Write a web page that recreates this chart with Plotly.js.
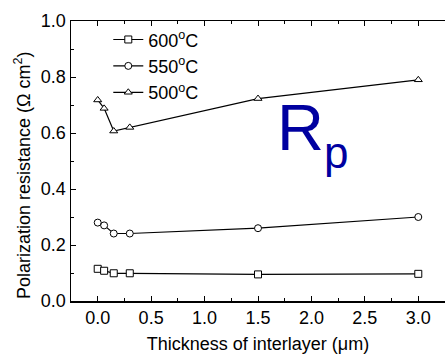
<!DOCTYPE html>
<html><head><meta charset="utf-8">
<script src="https://cdn.plot.ly/plotly-3.0.1.min.js"></script>
<style>html,body{margin:0;padding:0;background:#fff}</style>
</head><body>
<div id="chart" style="width:445px;height:354px"></div>
<script>
const thickness = [0, 0.06, 0.15, 0.3, 1.5, 3.0];
const rp600 = [0.115, 0.108, 0.099, 0.099, 0.095, 0.097];
const rp550 = [0.280, 0.270, 0.241, 0.241, 0.260, 0.300];
const rp500 = [0.718, 0.688, 0.607, 0.620, 0.723, 0.790];
const names = ['600<sup>o</sup>C', '550<sup>o</sup>C', '500<sup>o</sup>C'];
const symbols = ['square', 'circle', 'triangle-up'];
const series = [rp600, rp550, rp500];

const traces = series.map((ys, i) => ({
  x: thickness, y: ys, name: names[i], type: 'scatter', mode: 'lines+markers',
  line: {color: '#000', width: 1.2},
  marker: {symbol: symbols[i], size: 7, color: '#fff', line: {color: '#000', width: 1}}
}));

const font = 'Arial, "Liberation Sans", sans-serif';
const layout = {
  width: 445, height: 354,
  margin: {l: 71, r: 0, t: 21, b: 53},
  paper_bgcolor: '#fff', plot_bgcolor: '#fff',
  font: {family: font, color: '#000'},
  showlegend: true,
  legend: {x: 0.0997, y: 0.999, xanchor: 'left', yanchor: 'top', bgcolor: 'rgba(0,0,0,0)',
    font: {size: 18, family: font}, traceorder: 'normal', tracegroupgap: 0, itemwidth: 30},
  xaxis: {
    range: [-0.25, 3.25], tick0: 0, dtick: 0.5, tickformat: '.1f',
    ticks: 'inside', ticklen: 5, tickwidth: 1, tickcolor: '#000',
    minor: {dtick: 0.25, ticks: 'inside', ticklen: 3, tickcolor: '#000'},
    showline: true, linecolor: '#000', linewidth: 1.5, mirror: 'ticks',
    showgrid: false, zeroline: false,
    tickfont: {size: 18, family: font},
    title: {text: 'Thickness of interlayer (μm)', font: {size: 18, family: font}, standoff: 10}
  },
  yaxis: {
    range: [0, 1.0], tick0: 0, dtick: 0.2, tickformat: '.1f',
    ticks: 'inside', ticklen: 5, tickwidth: 1, tickcolor: '#000',
    minor: {dtick: 0.1, ticks: 'inside', ticklen: 3, tickcolor: '#000'},
    showline: true, linecolor: '#000', linewidth: 1.5, mirror: false,
    showgrid: false, zeroline: false,
    tickfont: {size: 18, family: font}
  },
  annotations: [
    {x: -0.131, y: 0.45, xref: 'paper', yref: 'paper', xanchor: 'center', yanchor: 'middle',
     textangle: -90, showarrow: false,
     text: 'Polarization resistance (Ω cm<sup>2</sup>)', font: {size: 18, family: font}},
    {x: 1.668, y: 0.618, xref: 'x', yref: 'y', xanchor: 'left', yanchor: 'middle', borderpad: 0,
     text: 'R', showarrow: false, font: {size: 65, color: '#0000A0', family: font}},
    {x: 2.105, y: 0.532, xref: 'x', yref: 'y', xanchor: 'left', yanchor: 'middle', borderpad: 0,
     text: 'p', showarrow: false, font: {size: 44, color: '#0000A0', family: font}}
  ]
};
Plotly.newPlot('chart', traces, layout, {displayModeBar: false, staticPlot: true});
</script>
</body></html>
